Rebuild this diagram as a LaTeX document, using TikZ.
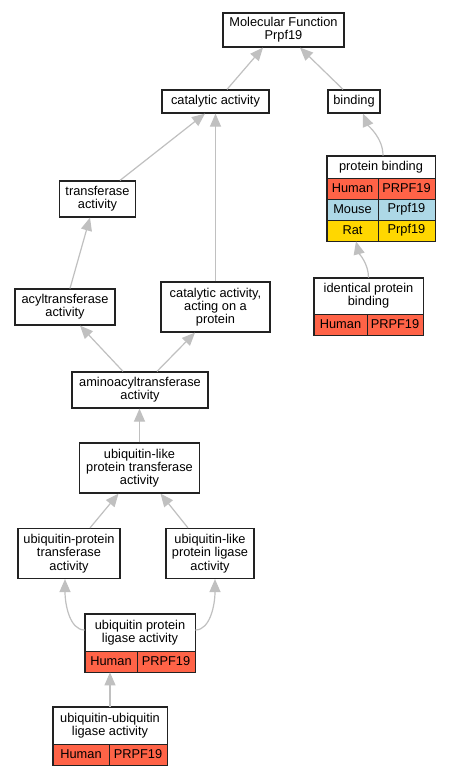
\documentclass[tikz,border=0pt]{standalone}
\usepackage{fontspec}
\setmainfont{Liberation Sans}
\usetikzlibrary{arrows.meta}
\definecolor{edgegray}{HTML}{C0C0C0}
\definecolor{human}{HTML}{FF6347}
\definecolor{mouse}{HTML}{ADD8E6}
\definecolor{rat}{HTML}{FFD700}
\definecolor{frame}{HTML}{222222}
\begin{document}
\begin{tikzpicture}[x=1pt,y=-1pt,
  txt/.style={font=\fontsize{12.8}{13.3}\selectfont},
  box/.style={txt, draw=frame, line width=1.2pt, fill=white, inner sep=0pt, align=center},
  cell/.style={txt, draw=frame, line width=0.8pt, inner sep=0pt, align=center},
  tframe/.style={draw=frame, line width=1.2pt},
  edge/.style={draw=edgegray, line width=1.2pt, -{Triangle[length=13pt,width=11pt]}},
]
\useasboundingbox[fill=white] (0,0) rectangle (451,776);

% plain boxes
\node[box, minimum width=121pt, minimum height=34pt] (mf) at (283.5,30) {Molecular Function\\Prpf19};
\node[box, minimum width=107pt, minimum height=23pt] (cat) at (215.5,101.5) {catalytic activity};
\node[box, minimum width=52pt, minimum height=23pt] (bind) at (354,101.5) {binding};
\node[box, minimum width=76pt, minimum height=36pt] (trans) at (97.5,199) {transferase\\activity};
\node[box, minimum width=100pt, minimum height=36pt] (acyl) at (65,307) {acyltransferase\\activity};
\node[box, minimum width=109pt, minimum height=50pt] (catp) at (215.5,307) {catalytic activity,\\acting on a\\protein};
\node[box, minimum width=136pt, minimum height=36pt] (amino) at (140,390) {aminoacyltransferase\\activity};
\node[box, minimum width=120pt, minimum height=50pt] (ubtr) at (139.5,468) {ubiquitin-like\\protein transferase\\activity};
\node[box, minimum width=102pt, minimum height=50pt] (upt) at (69,553.5) {ubiquitin-protein\\transferase\\activity};
\node[box, minimum width=88pt, minimum height=50pt] (ull) at (210,553.5) {ubiquitin-like\\protein ligase\\activity};

% table: protein binding
\node[cell, fill=white, minimum width=108pt, minimum height=22pt] (pbh) at (381,167) {protein binding};
\node[cell, fill=human, minimum width=51pt, minimum height=21pt] (pbhl) at (352.5,188.5) {Human};
\node[cell, fill=human, minimum width=57pt, minimum height=21pt] (pbhr) at (406.5,188.5) {PRPF19};
\node[cell, fill=mouse, minimum width=51pt, minimum height=21pt] (pbml) at (352.5,209.5) {Mouse};
\node[cell, fill=mouse, minimum width=57pt, minimum height=21pt] (pbmr) at (406.5,209.5) {Prpf19};
\node[cell, fill=rat, minimum width=51pt, minimum height=21pt] (pbrl) at (352.5,230.5) {Rat};
\node[cell, fill=rat, minimum width=57pt, minimum height=21pt] (pbrr) at (406.5,230.5) {Prpf19};
\draw[tframe] (pbh.north west) rectangle (pbrr.south east);

% table: identical protein binding
\node[cell, fill=white, minimum width=109pt, minimum height=36pt] (ipbh) at (368.5,296) {identical protein\\binding};
\node[cell, fill=human, minimum width=53pt, minimum height=21pt] (ipbl) at (340.5,324.5) {Human};
\node[cell, fill=human, minimum width=56pt, minimum height=21pt] (ipbr) at (395,324.5) {PRPF19};
\draw[tframe] (ipbh.north west) rectangle (ipbr.south east);

% table: ubiquitin protein ligase activity
\node[cell, fill=white, minimum width=110pt, minimum height=37pt] (uplh) at (140,632.5) {ubiquitin protein\\ligase activity};
\node[cell, fill=human, minimum width=52pt, minimum height=21pt] (upll) at (111,661.5) {Human};
\node[cell, fill=human, minimum width=58pt, minimum height=21pt] (uplr) at (166,661.5) {PRPF19};
\draw[tframe] (uplh.north west) rectangle (uplr.south east);

% table: ubiquitin-ubiquitin ligase activity
\node[cell, fill=white, minimum width=114pt, minimum height=37pt] (uulh) at (110,725.5) {ubiquitin-ubiquitin\\ligase activity};
\node[cell, fill=human, minimum width=56pt, minimum height=21pt] (uull) at (81,754.5) {Human};
\node[cell, fill=human, minimum width=58pt, minimum height=21pt] (uulr) at (138,754.5) {PRPF19};
\draw[tframe] (uulh.north west) rectangle (uulr.south east);

% edges
\draw[edge] ([xshift=11.5pt]cat.north) -- ([xshift=-20.5pt]mf.south);
\draw[edge] ([xshift=-11pt]bind.north) -- ([xshift=16.5pt]mf.south);
\draw[edge] ([xshift=2pt]pbh.north) .. controls +(0,-18) and +(5,12) .. ([xshift=9pt]bind.south);
\draw[edge] (ipbh.north) .. controls +(0,-14) and +(3,12) .. ([xshift=3.5pt]pbrl.south);
\draw[edge] ([xshift=22.5pt]trans.north) -- ([xshift=-10.5pt]cat.south);
\draw[edge] (catp.north) -- (cat.south);
\draw[edge] ([xshift=5pt]acyl.north) -- ([xshift=-7.5pt]trans.south);
\draw[edge] ([xshift=-17pt]amino.north) -- ([xshift=15pt]acyl.south);
\draw[edge] ([xshift=17pt]amino.north) -- ([xshift=-20.5pt]catp.south);
\draw[edge] (ubtr.north) -- (ubtr.north |- amino.south);
\draw[edge] ([xshift=21pt]upt.north) -- ([xshift=-21pt]ubtr.south);
\draw[edge] ([xshift=-22pt]ull.north) -- ([xshift=21pt]ubtr.south);
\draw[edge] ([yshift=2.5pt]uplh.west) .. controls +(-15,0) and +(0,25) .. ([xshift=-4pt]upt.south);
\draw[edge] ([yshift=2.5pt]uplh.east) .. controls +(15,0) and +(0,25) .. ([xshift=5pt]ull.south);
\draw[edge] (uulh.north) -- (uulh.north |- upll.south);
\end{tikzpicture}
\end{document}
